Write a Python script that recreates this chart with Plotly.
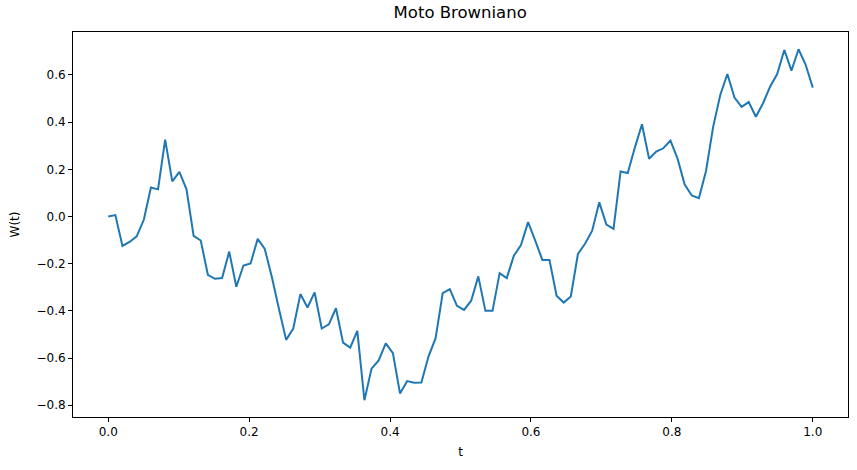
import numpy as np
import plotly.graph_objects as go

# /// --- MOTO BROWNIANO --- \\\
# one path W(t) sampled at 100 evenly spaced times on [0, 1]

n_steps = 100
t = np.linspace(0, 1, n_steps)

w_t = [
    0.000, 0.006, -0.125, -0.108, -0.084, -0.014, 0.123, 0.115, 0.326, 0.149,
    0.189, 0.115, -0.082, -0.102, -0.247, -0.264, -0.261, -0.149, -0.298, -0.208,
    -0.199, -0.095, -0.138, -0.258, -0.393, -0.523, -0.475, -0.329, -0.386, -0.322,
    -0.475, -0.457, -0.389, -0.535, -0.556, -0.485, -0.779, -0.645, -0.610, -0.538,
    -0.579, -0.750, -0.698, -0.705, -0.704, -0.594, -0.516, -0.325, -0.308, -0.379,
    -0.396, -0.357, -0.254, -0.400, -0.400, -0.240, -0.261, -0.166, -0.121, -0.024,
    -0.102, -0.184, -0.184, -0.336, -0.365, -0.339, -0.159, -0.116, -0.060, 0.060,
    -0.034, -0.052, 0.191, 0.184, 0.292, 0.391, 0.245, 0.275, 0.289, 0.322,
    0.245, 0.135, 0.089, 0.078, 0.193, 0.380, 0.515, 0.604, 0.504, 0.465,
    0.485, 0.423, 0.479, 0.550, 0.604, 0.706, 0.618, 0.709, 0.643, 0.546,
]

title_text = "Moto Browniano"
x_label = "t"
y_label = "W(t)"

fig = go.Figure()
fig.add_trace(go.Scatter(x=t, y=w_t, mode="lines",
                         line=dict(color="#1f77b4", width=2), showlegend=False))

axis_style = dict(showgrid=False, zeroline=False, showline=True, mirror=True,
                  linecolor="black", linewidth=1, ticks="outside", ticklen=4,
                  tickcolor="black", tickwidth=1, dtick=0.2, tickformat=".1f",
                  tickfont=dict(size=12, color="black"), automargin=False)

fig.update_xaxes(axis_style, range=[-0.05, 1.05], tick0=0,
                 title=dict(text=x_label, font=dict(size=12, color="black"), standoff=9))
fig.update_yaxes(axis_style, range=[-0.850, 0.782], tick0=0,
                 title=dict(text=y_label, font=dict(size=12, color="black"), standoff=14))

fig.update_layout(
    width=857, height=470,
    margin=dict(l=73, r=9, t=32, b=53, autoexpand=False),
    paper_bgcolor="white", plot_bgcolor="white",
    font=dict(family="DejaVu Sans", color="black"),
    title=dict(text=title_text, x=0.537, xanchor="center", y=0.973, yanchor="middle",
               font=dict(size=16.5, color="black")),
)

# the page's default body margin would push the figure 8px down and right
fig.write_html("out.html", config={"displayModeBar": False},
               post_script="document.body.style.margin = '0';")
